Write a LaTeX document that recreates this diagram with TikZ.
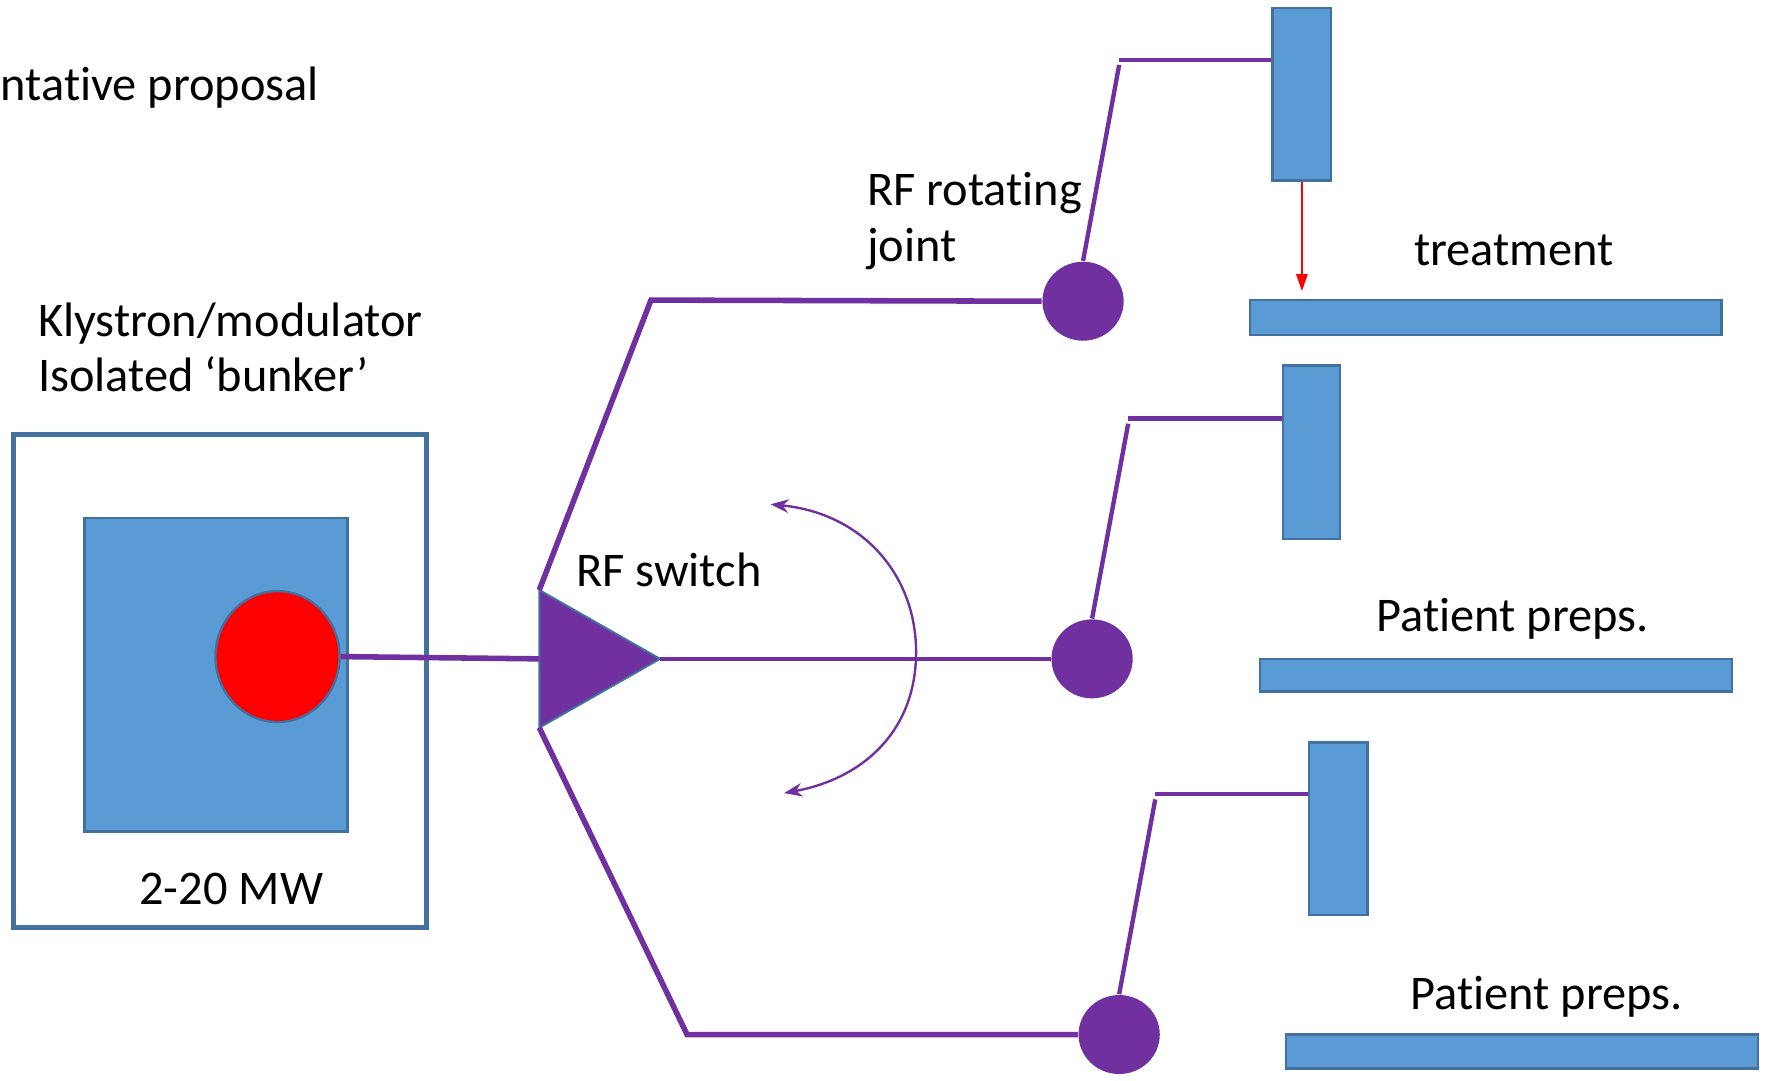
\documentclass[tikz,border=0pt]{standalone}
\usepackage{fontspec}
\setmainfont{Carlito}[RawFeature={-liga,-clig,-calt,-dlig,-hlig}]
\usetikzlibrary{positioning,arrows.meta,shapes.geometric}
\definecolor{rfpurple}{HTML}{7030A0}
\definecolor{boxblue}{HTML}{5B9BD5}
\definecolor{edgeblue}{HTML}{41719C}

\begin{document}
\begin{tikzpicture}[x=0.1mm,y=-0.1mm,>=Stealth,
   every node/.style={font=\fontsize{12.2}{14}\selectfont},
   txt/.style={anchor=base west,inner sep=0pt},
   block/.style={draw=edgeblue,fill=boxblue,line width=0.6pt,inner sep=0pt},
   joint/.style={ellipse,fill=rfpurple,minimum width=7.2mm,minimum height=7mm,inner sep=0pt},
   guide/.style={rfpurple,line width=1.4pt},
   arm/.style={rfpurple,line width=1.1pt}]
  \useasboundingbox (0,0) rectangle (1568,958);

  % klystron bunker
  \node[draw=edgeblue,line width=1.3pt,minimum width=36.6mm,minimum height=43.7mm,inner sep=0pt]
     (bunker) at (195,603.5) {};
  \node[block,minimum width=23.3mm,minimum height=27.8mm] (klystron) at (191.5,598) {};
  \node[ellipse,draw=edgeblue,fill=red,line width=0.6pt,minimum width=11mm,minimum height=11.6mm]
     (source) at (246,582) {};
  \node[txt] (title) at (0,89) {ntative proposal};
  \node[txt] (klylabel) at (33,298) {Klystron/modulator};
  \node[txt] (bunklabel) at (33,347) {Isolated ‘bunker’};
  \node[anchor=base,inner sep=0pt] (power) at (205,802) {2-20 MW};

  % RF switch
  \coordinate (swtop) at (478,523);
  \coordinate (swbot) at (478,645);
  \coordinate (swtip) at (585,584);
  \coordinate (swin)  at (478,584);
  \filldraw[fill=rfpurple,draw=edgeblue,line width=0.5pt] (swtop) -- (swtip) -- (swbot) -- cycle;
  \node[txt] (swlabel) at (510,520) {RF switch};
  \draw[guide] (source.east) -- (swin);

  % rotating joints
  \node[joint] (joint1) at (960,267) {};
  \node[joint] (joint2) at (968,584) {};
  \node[joint] (joint3) at (992,917) {};
  \coordinate (bend1) at (577,266);
  \coordinate (bend3) at (609,917);
  \draw[guide] (swtop) -- (bend1) -- (joint1.west);
  \draw[guide] (swbot) -- (bend3) -- (joint3.west);
  \draw[rfpurple,line width=0.9pt] (swtip) -- (joint2.west);
  \node[txt] (jlabel1) at (768,182) {RF rotating};
  \node[txt] (jlabel2) at (768,232) {joint};

  % switching arrow
  \coordinate (swingtop) at (683,447);
  \coordinate (swingbot) at (695,703);
  \draw[{Stealth[length=1.6mm,width=1.2mm]}-{Stealth[length=1.6mm,width=1.2mm]},rfpurple,line width=0.6pt]
     (swingtop) .. controls (765,455) and (812,510) .. (812,578)
     .. controls (812,648) and (765,690) .. (swingbot);

  % gantries and couches
  \node[block,minimum width=5.2mm,minimum height=15.3mm] (gantry1) at (1154,83.5) {};
  \node[block,minimum width=5.1mm,minimum height=15.4mm] (gantry2) at (1162.5,401) {};
  \node[block,minimum width=5.2mm,minimum height=15.3mm] (gantry3) at (1186,734.5) {};
  \node[block,minimum width=41.8mm,minimum height=3.1mm] (couch1) at (1317,281.5) {};
  \node[block,minimum width=41.8mm,minimum height=2.9mm] (couch2) at (1326,598.5) {};
  \node[block,minimum width=41.8mm,minimum height=3mm] (couch3) at (1349,932) {};

  % arms
  \coordinate (elbow1) at (992,53);
  \coordinate (elbow2) at (1000,371);
  \coordinate (elbow3) at (1024,704);
  \draw[arm] (joint1.north) -- ([yshift=-1.3pt]elbow1);
  \draw[arm] (joint2.north) -- ([yshift=-1.3pt]elbow2);
  \draw[arm] (joint3.north) -- ([yshift=-1.3pt]elbow3);
  \draw[arm] (elbow1) -- (elbow1 -| gantry1.west);
  \draw[arm] (elbow2) -- (elbow2 -| gantry2.west);
  \draw[arm] (elbow3) -- (elbow3 -| gantry3.west);

  % beam
  \draw[-{Triangle[length=1.5mm,width=1mm]},red,line width=0.5pt] (gantry1.south) -- ++(0,97);

  \node[anchor=base,inner sep=0pt] (treat) at (1342,235) {treatment};
  \node[anchor=base,inner sep=0pt] (prep2) at (1341,560) {Patient preps.};
  \node[anchor=base,inner sep=0pt] (prep3) at (1371,895) {Patient preps.};
\end{tikzpicture}
\end{document}
